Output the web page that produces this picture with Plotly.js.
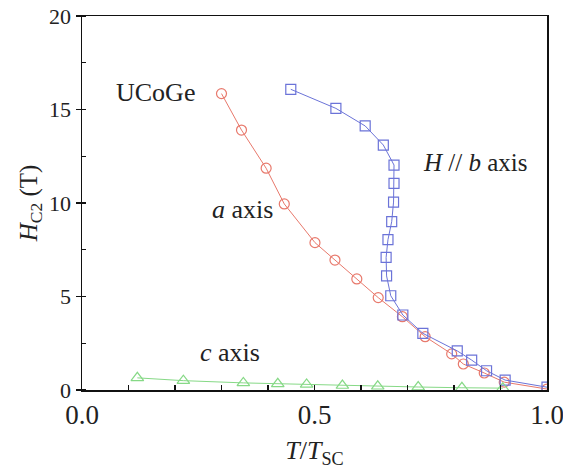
<!DOCTYPE html>
<html>
<head>
<meta charset="utf-8">
<script src="https://cdn.plot.ly/plotly-3.0.1.min.js"></script>
<style>html,body{margin:0;padding:0;background:#fff;}#chart{width:563px;height:476px;}</style>
</head>
<body>
<div id="chart"></div>
<script>
// a axis (red circles)
const aX = [0.300, 0.343, 0.396, 0.435, 0.501, 0.544, 0.591, 0.637, 0.689, 0.738, 0.795, 0.820, 0.865, 0.908, 1.000];
const aH = [15.85, 13.9, 11.86, 9.95, 7.88, 6.95, 5.94, 4.94, 3.92, 2.85, 1.93, 1.39, 0.91, 0.42, 0.05];
// H // b axis (blue squares)
const bX = [0.449, 0.546, 0.609, 0.648, 0.671, 0.671, 0.670, 0.666, 0.658, 0.654, 0.655, 0.664, 0.690, 0.733, 0.807, 0.838, 0.870, 0.910, 1.000];
const bH = [16.08, 15.06, 14.12, 13.1, 12.03, 11.05, 10.05, 9.0, 8.04, 7.09, 6.1, 5.04, 4.01, 3.03, 2.09, 1.6, 1.03, 0.53, 0.15];
// c axis (green triangles)
const cX = [0.119, 0.218, 0.347, 0.421, 0.483, 0.560, 0.636, 0.723, 0.817, 0.905];
const cH = [0.65, 0.5, 0.38, 0.33, 0.3, 0.24, 0.2, 0.16, 0.12, 0.1];
// ticks
const xTickVals = [0, 0.5, 1.0];
const xTickText = ['0.0', '0.5', '1.0'];
const xMinorVals = [0, 0.1, 0.2, 0.3, 0.4, 0.5, 0.6, 0.7, 0.8, 0.9, 1.0];
const yTickVals = [0, 5, 10, 15, 20];
const yTickText = ['0', '5', '10', '15', '20'];
const yMinorVals = [0, 2.5, 5, 7.5, 10, 12.5, 15, 17.5, 20];

const serif = "'Times New Roman', 'Liberation Serif', Times, serif";
const red = '#e8796c', blue = '#6b73d8', green = '#86d986';

const traces = [
  {x: aX, y: aH, mode: 'lines+markers', line: {color: red, width: 1},
   marker: {symbol: 'circle-open', size: 10, color: red, line: {width: 1.2}}},
  {x: bX, y: bH, mode: 'lines+markers', line: {color: blue, width: 1},
   marker: {symbol: 'square-open', size: 10, color: blue, line: {width: 1.2}}},
  {x: cX, y: cH, mode: 'lines+markers', line: {color: green, width: 1},
   marker: {symbol: 'triangle-up-open', size: 11, color: green, line: {width: 1.2}}}
];

const layout = {
  width: 563, height: 476,
  margin: {l: 82, r: 16, t: 16, b: 86},
  paper_bgcolor: '#fff', plot_bgcolor: '#fff',
  showlegend: false,
  font: {family: serif, color: '#222'},
  xaxis: {
    range: [0, 1.0], tickvals: xTickVals, ticktext: xTickText,
    ticks: 'inside', ticklen: 5, tickcolor: '#111', tickwidth: 1.2,
    minor: {tickvals: xMinorVals, ticks: 'inside', ticklen: 5, tickcolor: '#111', tickwidth: 1.2},
    showline: true, linecolor: '#111', linewidth: 1.5, mirror: true,
    showgrid: false, zeroline: false, ticklabeloverflow: 'allow',
    tickfont: {family: serif, size: 27, color: '#222'},
    title: {text: '<i>T</i>/<i>T</i><sub>SC</sub>', font: {family: serif, size: 26, color: '#222'}, standoff: 12}
  },
  xaxis2: {
    overlaying: 'x', side: 'top', range: [0, 1.0], tickvals: xMinorVals,
    ticks: 'inside', ticklen: 5, tickcolor: '#111', tickwidth: 1.2,
    showticklabels: false, showline: false, showgrid: false, zeroline: false
  },
  yaxis: {
    range: [0, 20], tickvals: yTickVals, ticktext: yTickText,
    ticks: 'outside', ticklen: 5, tickcolor: '#111', tickwidth: 1.2,
    minor: {tickvals: yMinorVals, ticks: 'inside', ticklen: 4, tickcolor: '#111'},
    showline: true, linecolor: '#111', linewidth: 1.5, mirror: true,
    showgrid: false, zeroline: false, ticklabeloverflow: 'allow',
    tickfont: {family: serif, size: 22, color: '#222'},
    title: {text: '<i>H</i><sub>C2</sub> (T)', font: {family: serif, size: 25, color: '#222'}, standoff: 4}
  },
  yaxis2: {
    overlaying: 'y', side: 'right', range: [0, 20], tickvals: yMinorVals,
    ticks: 'inside', ticklen: 5, tickcolor: '#111', tickwidth: 1.2,
    showticklabels: false, showline: false, showgrid: false, zeroline: false
  },
  annotations: [
    {x: 0.247, y: 15.9, xref: 'x', yref: 'y', xanchor: 'right', yanchor: 'middle', showarrow: false,
     text: 'UCoGe', font: {family: serif, size: 26, color: '#222'}},
    {x: 0.415, y: 9.63, xref: 'x', yref: 'y', xanchor: 'right', yanchor: 'middle', showarrow: false,
     text: '<i>a</i> axis', font: {family: serif, size: 26, color: '#222'}},
    {x: 0.963, y: 12.14, xref: 'x', yref: 'y', xanchor: 'right', yanchor: 'middle', showarrow: false,
     text: '<i>H</i> // <i>b</i> axis', font: {family: serif, size: 25, color: '#222'}},
    {x: 0.318, y: 1.98, xref: 'x', yref: 'y', xanchor: 'center', yanchor: 'middle', showarrow: false,
     text: '<i>c</i> axis', font: {family: serif, size: 26, color: '#222'}}
  ]
};

Plotly.newPlot('chart', traces, layout, {displayModeBar: false, staticPlot: true});
</script>
</body>
</html>
